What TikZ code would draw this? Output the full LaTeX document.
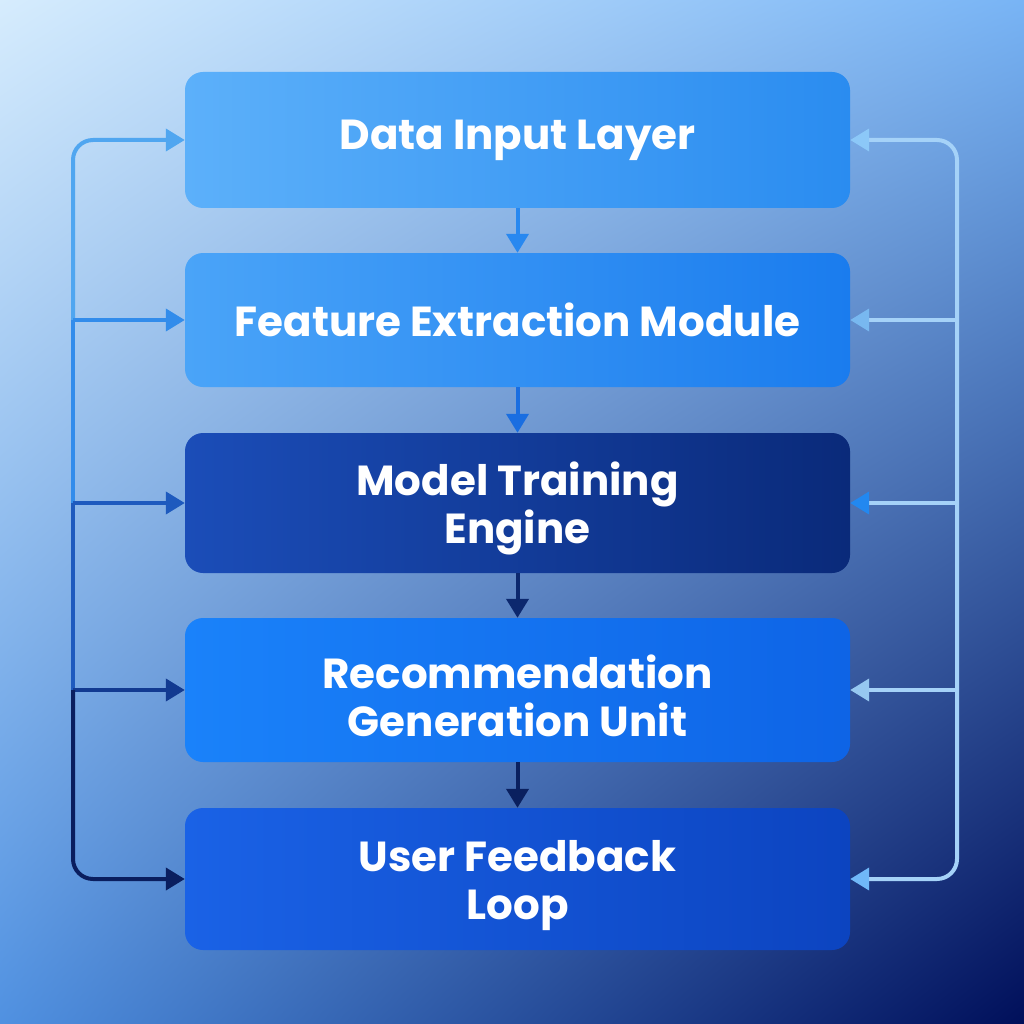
\documentclass[tikz,border=0pt]{standalone}
\usepackage{fontspec}
\setmainfont{Poppins}
\usetikzlibrary{arrows.meta,shadings}
\definecolor{bgUL}{RGB}{214,236,253}
\definecolor{bgUR}{RGB}{120,180,245}
\definecolor{bgLL}{RGB}{80,145,225}
\definecolor{bgLR}{RGB}{0,15,90}
\definecolor{bAl}{RGB}{92,176,250}\definecolor{bAr}{RGB}{42,140,240}
\definecolor{bBl}{RGB}{74,164,248}\definecolor{bBr}{RGB}{26,124,238}
\definecolor{bCl}{RGB}{27,77,184}\definecolor{bCr}{RGB}{10,42,122}
\definecolor{bDl}{RGB}{26,130,250}\definecolor{bDr}{RGB}{14,100,230}
\definecolor{bEl}{RGB}{26,98,230}\definecolor{bEr}{RGB}{12,68,192}
\definecolor{lA}{RGB}{80,166,240}
\definecolor{lB}{RGB}{50,140,235}
\definecolor{lC}{RGB}{30,90,190}
\definecolor{lD}{RGB}{18,58,145}
\definecolor{lE}{RGB}{10,30,95}
\definecolor{rline}{RGB}{165,210,248}
\definecolor{vA}{RGB}{40,136,240}
\definecolor{vB}{RGB}{26,110,225}
\definecolor{vC}{RGB}{12,40,110}
\definecolor{vD}{RGB}{10,32,95}
\tikzset{
  stage/.style={rounded corners=18pt, minimum width=665pt, text=white,
    font=\fontsize{42}{48}\selectfont\bfseries, align=center, inner sep=0pt},
  twoline/.style={text height=93pt},
  tip/.style={-{Triangle[length=19pt,width=22pt]}},
  conn/.style={line width=4pt, line cap=butt},
}
\begin{document}
\begin{tikzpicture}[x=1pt,y=-1pt]
\useasboundingbox (0,0) rectangle (1024,1024);
\shade[upper left=bgUL, upper right=bgUR, lower left=bgLL, lower right=bgLR] (0,0) rectangle (1024,1024);

\node[stage, minimum height=136pt, left color=bAl, right color=bAr] (b1) at (517.5,140) {Data Input Layer};
\node[stage, minimum height=134pt, left color=bBl, right color=bBr] (b2) at (517.5,320) {Feature Extraction Module};
\node[stage, twoline, minimum height=140pt, left color=bCl, right color=bCr] (b3) at (517.5,503) {Model Training\\Engine};
\node[stage, twoline, minimum height=144pt, left color=bDl, right color=bDr] (b4) at (517.5,690) {Recommendation\\Generation Unit};
\node[stage, twoline, minimum height=142pt, left color=bEl, right color=bEr] (b5) at (517.5,879) {User Feedback\\Loop};

\coordinate (lx) at (73,0);
\coordinate (rx) at (957,0);

% vertical arrows between stages
\draw[conn, tip, vA] (b1.south) -- (b2.north);
\draw[conn, tip, vB] (b2.south) -- (b3.north);
\draw[conn, tip, vC] (b3.south) -- (b4.north);
\draw[conn, tip, vD] (b4.south) -- (b5.north);

% left trunk
\draw[conn, lA, rounded corners=20pt, tip] (lx |- b2.west) |- (b1.west);
\draw[conn, lB] (lx |- b2.west) -- (lx |- b3.west);
\draw[conn, lB, tip] (lx |- b2.west) -- (b2.west);
\draw[conn, lC] (lx |- b3.west) -- (lx |- b4.west);
\draw[conn, lC, tip] (lx |- b3.west) -- (b3.west);
\draw[conn, lD, tip] (lx |- b4.west) -- (b4.west);
\draw[conn, lE, rounded corners=20pt, tip] (lx |- b4.west) |- (b5.west);

% right trunk
\draw[conn, rline, rounded corners=20pt, -{Triangle[length=19pt,width=22pt,color={rgb,255:red,140;green,200;blue,248}]}] (rx |- b3.east) |- (b1.east);
\draw[conn, rline, -{Triangle[length=19pt,width=22pt,color={rgb,255:red,120;green,184;blue,240}]}] (rx |- b2.east) -- (b2.east);
\draw[conn, rline, -{Triangle[length=19pt,width=22pt,color={rgb,255:red,34;green,136;blue,240}]}] (rx |- b3.east) -- (b3.east);
\draw[conn, rline, -{Triangle[length=19pt,width=22pt,color={rgb,255:red,150;green,200;blue,240}]}] (rx |- b4.east) -- (b4.east);
\draw[conn, rline, rounded corners=20pt, -{Triangle[length=19pt,width=22pt,color={rgb,255:red,112;green,184;blue,248}]}] (rx |- b3.east) |- (b5.east);
\end{tikzpicture}
\end{document}
